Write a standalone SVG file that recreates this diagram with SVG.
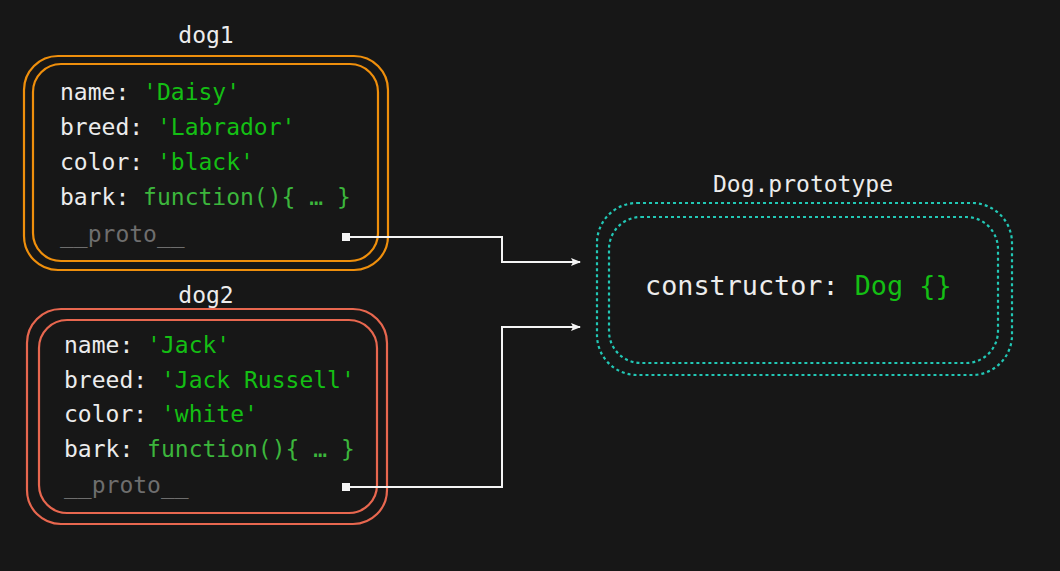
<svg xmlns="http://www.w3.org/2000/svg" width="1060" height="571" viewBox="0 0 1060 571">
<style>
text{font-family:"DejaVu Sans Mono","Liberation Mono",monospace;font-size:23px;fill:#ececec}
.s{fill:#14bf14}
.f{fill:#3cb63c}
.p{fill:#6e6e6e}
.t{text-anchor:middle}
.o{fill:none;stroke:#ef8f0c;stroke-width:2.2}
.r{fill:none;stroke:#e8674f;stroke-width:2.2}
.d{fill:none;stroke:#22c7b5;stroke-width:2.2;stroke-dasharray:3 3}
.c{fill:none;stroke:#f4f4f4;stroke-width:2}
.dot{fill:#f4f4f4}
</style>
<defs>
<marker id="ah" viewBox="0 0 10 10" refX="9" refY="5" markerWidth="10" markerHeight="10" markerUnits="userSpaceOnUse" orient="auto">
<path d="M0,1 L10,5 L0,9 L2,5 Z" fill="#f4f4f4"/>
</marker>
</defs>
<rect width="1060" height="571" fill="#171717"/>
<g id="dog1">
<text class="t" x="206" y="43">dog1</text>
<rect class="o" x="24" y="56" width="364" height="214" rx="34"/>
<rect class="o" x="33" y="64" width="345" height="197" rx="28"/>
<text x="60" y="100">name: <tspan class="s">'Daisy'</tspan></text>
<text x="60" y="135">breed: <tspan class="s">'Labrador'</tspan></text>
<text x="60" y="170">color: <tspan class="s">'black'</tspan></text>
<text x="60" y="205">bark: <tspan class="f">function(){ … }</tspan></text>
<text class="p" x="60" y="242">__proto__</text>
<rect class="dot" x="342" y="233" width="8" height="8"/>
</g>
<g id="dog2">
<text class="t" x="206" y="303">dog2</text>
<rect class="r" x="27" y="309" width="360" height="215" rx="34"/>
<rect class="r" x="39" y="320" width="338" height="193" rx="28"/>
<text x="64" y="353">name: <tspan class="s">'Jack'</tspan></text>
<text x="64" y="388">breed: <tspan class="s">'Jack Russell'</tspan></text>
<text x="64" y="422">color: <tspan class="s">'white'</tspan></text>
<text x="64" y="457">bark: <tspan class="f">function(){ … }</tspan></text>
<text class="p" x="64" y="493">__proto__</text>
<rect class="dot" x="342" y="483" width="8" height="8"/>
</g>
<g id="dogPrototype">
<text class="t" x="803" y="192">Dog.prototype</text>
<rect class="d" x="597" y="203" width="415" height="172" rx="40"/>
<rect class="d" x="609" y="217" width="389" height="146" rx="32"/>
<text x="645" y="295" style="font-size:26.8px">constructor: <tspan class="s">Dog {}</tspan></text>
</g>
<g id="connectors">
<path class="c" d="M346,237 H502 V262 H580" marker-end="url(#ah)"/>
<path class="c" d="M346,487 H502 V327 H580" marker-end="url(#ah)"/>
</g>
</svg>
